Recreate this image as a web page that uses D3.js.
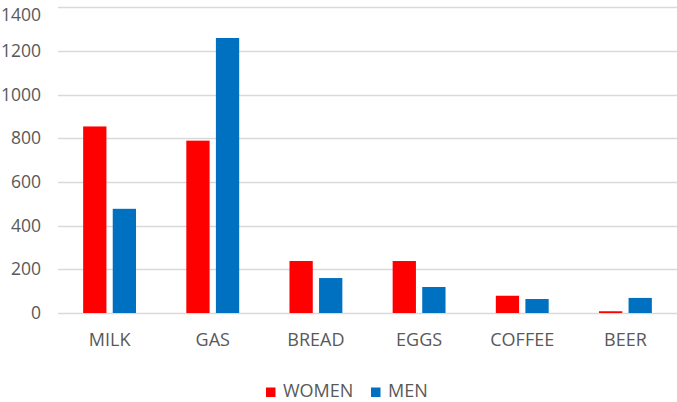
<!DOCTYPE html>
<html>
<head>
<meta charset="utf-8">
<script src="https://cdn.jsdelivr.net/npm/d3@7"></script>
<style>
  html, body { margin: 0; padding: 0; background: #fff; }
  svg { display: block; }
  text { font-family: "Open Sans", sans-serif; fill: #595959; }
</style>
</head>
<body>
<svg id="chart" width="677" height="402"></svg>
<script>
const categories = ["MILK", "GAS", "BREAD", "EGGS", "COFFEE", "BEER"];
const seriesNames = ["WOMEN", "MEN"];
const women = [854, 789, 238, 238, 79, 8];
const men = [477, 1259, 160, 119, 64, 69];
const yTicks = [0, 200, 400, 600, 800, 1000, 1200, 1400];
const colors = ["#ff0000", "#0070c0"];

const seriesValues = [women, men];
const svg = d3.select("#chart");

const plotLeft = 58, plotRight = 677, plotTop = 7.2, plotBottom = 313;

const x0 = d3.scaleBand().domain(categories).range([plotLeft, plotRight]).padding(0);
const x1 = d3.scaleBand().domain(seriesNames).range([0, x0.bandwidth()])
  .paddingInner(0.213).paddingOuter(0.85);
const y = d3.scaleLinear().domain([0, 1400]).range([plotBottom, plotTop]);

// gridlines
svg.append("g").selectAll("line").data(yTicks).join("line")
  .attr("x1", plotLeft).attr("x2", plotRight)
  .attr("y1", d => Math.round(y(d)) + 0.5).attr("y2", d => Math.round(y(d)) + 0.5)
  .attr("stroke", "#d9d9d9").attr("stroke-width", 1.3);

// y axis labels
const yAxis = d3.axisLeft(y).tickValues(yTicks).tickFormat(d3.format("d")).tickSize(0).tickPadding(0);
const gy = svg.append("g").attr("transform", `translate(41,0)`).call(yAxis);
gy.select(".domain").remove();
gy.selectAll("text").attr("font-size", 17.5).attr("font-family", "Open Sans, sans-serif")
  .style("fill", "#595959");
// keep the top label inside the picture
gy.selectAll(".tick").filter(d => d === 1400).select("text").attr("dy", "0.76em");

// bars
categories.forEach((c, i) => {
  seriesNames.forEach((s, j) => {
    const v = seriesValues[j][i];
    svg.append("rect")
      .attr("x", x0(c) + x1(s))
      .attr("y", y(v))
      .attr("width", x1.bandwidth())
      .attr("height", y(0) - y(v))
      .attr("fill", colors[j]);
  });
});

// x axis labels
const xAxis = d3.axisBottom(x0).tickSize(0).tickPadding(0);
const gx = svg.append("g").attr("transform", `translate(0,${plotBottom + 20})`).call(xAxis);
gx.select(".domain").remove();
gx.selectAll("text").attr("font-size", 18).attr("font-family", "Open Sans, sans-serif")
  .attr("dy", "0.72em").style("fill", "#595959");

// legend
const legend = svg.append("g");
const legendItems = [{name: "WOMEN", x: 266, color: colors[0]}, {name: "MEN", x: 371, color: colors[1]}];
legendItems.forEach(it => {
  legend.append("rect").attr("x", it.x).attr("y", 387.5).attr("width", 9.5).attr("height", 9.5).attr("fill", it.color);
  legend.append("text").attr("x", it.x + 17).attr("y", 397).attr("font-size", 18).text(it.name);
});
</script>
</body>
</html>
